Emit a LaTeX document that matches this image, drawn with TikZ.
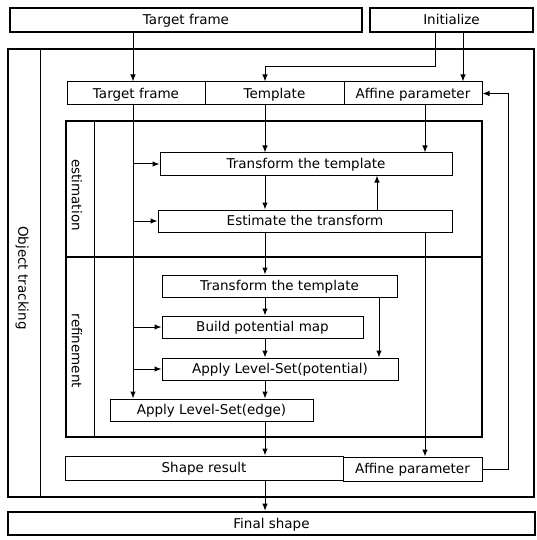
\documentclass[tikz,border=0pt]{standalone}
\usepackage{fontspec}
\setmainfont{DejaVu Sans}
\usetikzlibrary{arrows.meta}

\begin{document}
\begin{tikzpicture}[x=1pt,y=-1pt,
  box/.style={draw,rectangle,line width=1pt,inner sep=0pt,minimum height=22pt,text height=10pt,text depth=0.5pt,font=\fontsize{13.5}{16}\selectfont},
  bigbox/.style={box,line width=2.6pt,minimum height=24pt},
  arr/.style={-{Latex[length=7pt,width=5.5pt]},line width=1pt},
  lbl/.style={rotate=-90,font=\fontsize{13.5}{16}\selectfont}]
\useasboundingbox (0,0) rectangle (537,540);

% frames
\draw[line width=2.6pt] (8,49) rectangle (534,497);
\draw[line width=1pt] (40,49) -- (40,497);
\draw[line width=2.6pt] (66,121) rectangle (482,257);
\draw[line width=1pt] (94,121) -- (94,257);
\draw[line width=2.6pt] (66,257) rectangle (482,437);
\draw[line width=1pt] (94,257) -- (94,437);

\node[lbl] (obj) at (22,278) {Object tracking};
\node[lbl] (est) at (77,195) {estimation};
\node[lbl] (ref) at (77,351) {refinement};

% boxes
\node[bigbox,minimum width=352pt] (topTF) at (186,20) {Target frame};
\node[bigbox,minimum width=163pt] (init) at (451.5,20) {Initialize};
\node[box,minimum width=138pt,minimum height=23pt] (rowTF) at (136,93.5) {Target frame};
\node[box,minimum width=139pt,minimum height=23pt] (rowTpl) at (274.5,93.5) {Template};
\node[box,minimum width=138pt,minimum height=23pt] (rowAff) at (413,93.5) {Affine parameter};
\node[box,minimum width=292pt] (transE) at (306,164) {Transform the template};
\node[box,minimum width=294pt] (estT) at (305,221) {Estimate the transform};
\node[box,minimum width=235pt] (transR) at (279.5,286) {Transform the template};
\node[box,minimum width=201pt] (build) at (262.5,327) {Build potential map};
\node[box,minimum width=236pt] (applyP) at (280,369) {Apply Level-Set(potential)};
\node[box,minimum width=203pt] (applyE) at (211.5,410) {Apply Level-Set(edge)};
\node[box,minimum width=278pt,minimum height=24pt] (shape) at (204,468) {Shape result};
\node[box,minimum width=139pt,minimum height=24pt] (affB) at (412.5,469) {Affine parameter};
\node[bigbox,minimum width=527pt,minimum height=23pt] (final) at (271.5,523.5) {Final shape};

% line positions
\coordinate (xa) at (133,0);
\coordinate (xm) at (265,0);
\coordinate (xu) at (377,0);
\coordinate (xs) at (379,0);
\coordinate (xp) at (425,0);
\coordinate (xi) at (435,0);
\coordinate (xj) at (463,0);
\coordinate (xf) at (508,0);
\coordinate (y1) at (0,67);

% connectors
\draw[arr] (topTF.south -| xa) -- (rowTF.north -| xa);
\draw[arr] (init.south -| xi) |- (y1 -| xm) -- (rowTpl.north -| xm);
\draw[arr] (init.south -| xj) -- (rowAff.north -| xj);
\draw[arr] (rowTpl.south -| xm) -- (transE.north -| xm);
\draw[arr] (rowAff.south -| xp) -- (transE.north -| xp);
\draw[arr] (rowTF.south -| xa) -- (applyE.north -| xa);
\draw[arr] (transE.west -| xa) -- (transE.west);
\draw[arr] (estT.west -| xa) -- (estT.west);
\draw[arr] (build.west -| xa) -- (build.west);
\draw[arr] (applyP.west -| xa) -- (applyP.west);
\draw[arr] (transE.south -| xm) -- (estT.north -| xm);
\draw[arr] (estT.north -| xu) -- (transE.south -| xu);
\draw[arr] (estT.south -| xp) -- (affB.north -| xp);
\draw[arr] (estT.south -| xm) -- (transR.north -| xm);
\draw[arr] (transR.south -| xm) -- (build.north -| xm);
\draw[arr] (transR.south -| xs) -- (applyP.north -| xs);
\draw[arr] (build.south -| xm) -- (applyP.north -| xm);
\draw[arr] (applyP.south -| xm) -- (applyE.north -| xm);
\draw[arr] (applyE.south -| xm) -- (shape.north -| xm);
\draw[arr] (shape.south -| xm) -- (final.north -| xm);
\draw[arr] (affB.east) -| (rowAff.east -| xf) -- (rowAff.east);
\end{tikzpicture}
\end{document}
